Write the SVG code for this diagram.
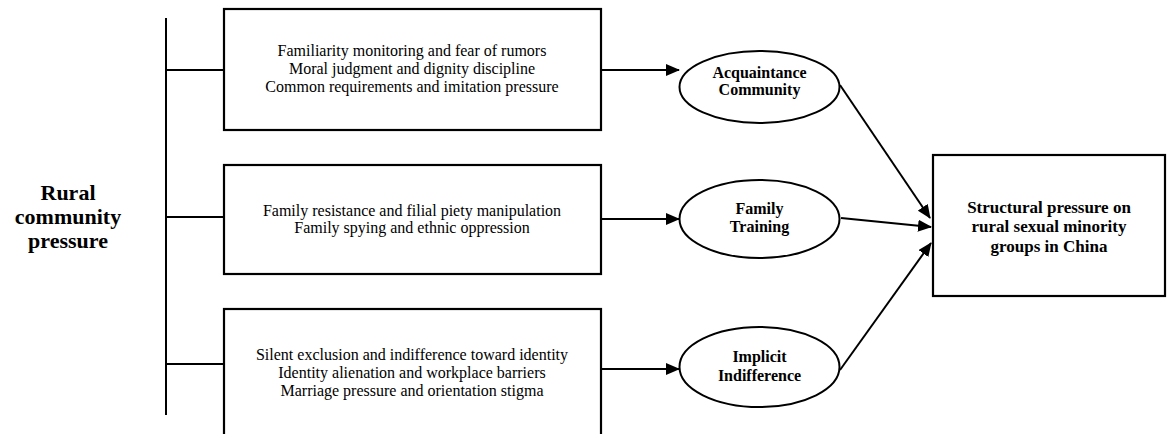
<svg xmlns="http://www.w3.org/2000/svg" width="1167" height="434" viewBox="0 0 1167 434">
<defs>
<marker id="ah" markerWidth="14" markerHeight="12" refX="13" refY="6" orient="auto" markerUnits="userSpaceOnUse" viewBox="0 0 14 12">
<path d="M0,0 L14,6 L0,12 z" fill="#000"/>
</marker>
<style>
.box{fill:#fff;stroke:#000;stroke-width:2.2}
.ell{fill:#fff;stroke:#000;stroke-width:2}
.ln{stroke:#000;stroke-width:2;fill:none}
.arr{stroke:#000;stroke-width:2;fill:none;marker-end:url(#ah)}
.t{font-family:"Liberation Serif","Times New Roman",serif;font-size:16px;fill:#000;text-anchor:middle}
.b{font-family:"Liberation Serif","Times New Roman",serif;font-weight:bold;fill:#000;text-anchor:middle}
</style>
</defs>
<rect width="1167" height="434" fill="#fff"/>
<g id="root-label">
<text class="b" font-size="22" x="68" y="200">Rural</text>
<text class="b" font-size="22" x="68" y="224">community</text>
<text class="b" font-size="22" x="68" y="248">pressure</text>
</g>
<g id="connectors">
<line class="ln" x1="166" y1="18" x2="166" y2="415"/>
<line class="ln" x1="166" y1="70" x2="224" y2="70"/>
<line class="ln" x1="166" y1="217" x2="224" y2="217"/>
<line class="ln" x1="166" y1="364" x2="224" y2="364"/>
<line class="arr" x1="601" y1="70" x2="679" y2="70"/>
<line class="arr" x1="601" y1="219" x2="679" y2="219"/>
<line class="arr" x1="601" y1="369" x2="679" y2="369"/>
<line class="arr" x1="840" y1="85" x2="930" y2="218"/>
<line class="arr" x1="841" y1="218" x2="931" y2="227"/>
<line class="arr" x1="840" y1="370" x2="931" y2="243"/>
</g>
<g id="box1">
<rect class="box" x="224" y="9" width="377" height="121"/>
<text class="t" x="412" y="56">Familiarity monitoring and fear of rumors</text>
<text class="t" x="412" y="74">Moral judgment and dignity discipline</text>
<text class="t" x="412" y="92">Common requirements and imitation pressure</text>
</g>
<g id="box2">
<rect class="box" x="224" y="165" width="377" height="109"/>
<text class="t" x="412" y="216">Family resistance and filial piety manipulation</text>
<text class="t" x="412" y="233">Family spying and ethnic oppression</text>
</g>
<g id="box3">
<rect class="box" x="224" y="309" width="377" height="140"/>
<text class="t" x="412" y="360">Silent exclusion and indifference toward identity</text>
<text class="t" x="412" y="378">Identity alienation and workplace barriers</text>
<text class="t" x="412" y="396">Marriage pressure and orientation stigma</text>
</g>
<g id="ell1">
<ellipse class="ell" cx="759.5" cy="87" rx="80" ry="36"/>
<text class="b" font-size="16" x="759.5" y="78">Acquaintance</text>
<text class="b" font-size="16" x="759.5" y="95">Community</text>
</g>
<g id="ell2">
<ellipse class="ell" cx="759.5" cy="219" rx="80" ry="39"/>
<text class="b" font-size="16" x="759.5" y="214">Family</text>
<text class="b" font-size="16" x="759.5" y="232">Training</text>
</g>
<g id="ell3">
<ellipse class="ell" cx="759.5" cy="367" rx="80" ry="40"/>
<text class="b" font-size="16" x="759.5" y="362">Implicit</text>
<text class="b" font-size="16" x="759.5" y="381">Indifference</text>
</g>
<g id="target">
<rect class="box" x="933" y="155" width="232" height="141"/>
<text class="b" font-size="17" x="1049" y="213">Structural pressure on</text>
<text class="b" font-size="17" x="1049" y="232">rural sexual minority</text>
<text class="b" font-size="17" x="1049" y="252">groups in China</text>
</g>
</svg>
